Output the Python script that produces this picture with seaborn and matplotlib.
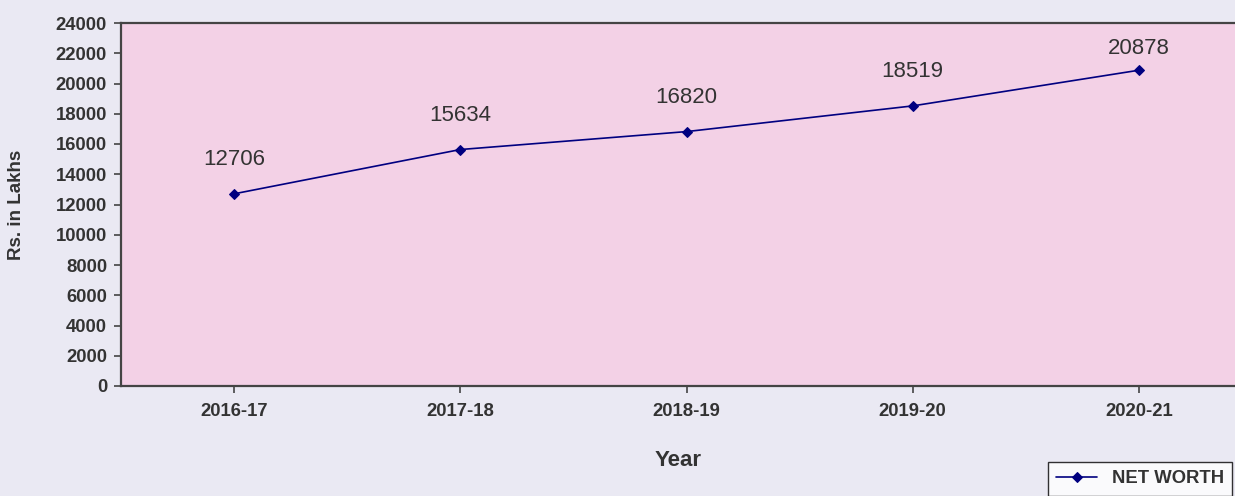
import matplotlib
matplotlib.use("Agg")
import matplotlib.pyplot as plt
import seaborn as sns
import pandas as pd

years = ["2016-17", "2017-18", "2018-19", "2019-20", "2020-21"]
net_worth = [12706, 15634, 16820, 18519, 20878]
series_name = "NET WORTH"
yticks = list(range(0, 24001, 2000))

df = pd.DataFrame({"Year": years, "Value": net_worth})
df["pos"] = range(len(years))

sns.set_theme(style="white")
plt.rcParams['font.family'] = ['Liberation Sans', 'DejaVu Sans']

W, H = 1235, 496
fig = plt.figure(figsize=(W / 100, H / 100), dpi=100, facecolor="#EAE9F3")
ax = fig.add_axes([121 / W, 1 - 386 / H, 1 - 121 / W, (386 - 23) / H])
ax.set_facecolor("#F3D1E6")

sns.lineplot(data=df, x="pos", y="Value", ax=ax, color="#000080", marker="D",
             markersize=5, markeredgecolor="#000080", linewidth=1.2,
             label=series_name)

ymax = 24000
for x, v in zip(df["pos"], df["Value"]):
    off = 17 if v < 0.85 * ymax else 8
    ax.annotate(str(v), (x, v), xytext=(0, off), textcoords="offset points",
                ha="center", va="bottom", fontsize=16, color="#333333")

ax.set_xlim(-0.5, (W - 235) / 226)
ax.set_ylim(0, ymax)
ax.set_xticks(df["pos"])
ax.set_xticklabels(years)
ax.set_yticks(yticks)
ax.tick_params(axis="both", which="both", direction="out", length=5, width=1.2,
               color="#444444", labelcolor="#333333", labelsize=13.3)
ax.tick_params(axis="x", pad=7)
ax.tick_params(axis="y", pad=5)
ax.tick_params(left=True, bottom=True)
for lab in ax.get_xticklabels() + ax.get_yticklabels():
    lab.set_fontweight("bold")

for s in ["left", "bottom", "top"]:
    ax.spines[s].set_color("#444444")
    ax.spines[s].set_linewidth(1.6)
    ax.spines[s].set_visible(True)
ax.spines["right"].set_visible(False)

ax.set_xlabel("Year", fontsize=16, fontweight="bold", color="#333333", labelpad=22)
ax.set_ylabel("Rs. in Lakhs", fontsize=13.5, fontweight="bold", color="#333333", labelpad=22)

leg = ax.legend(loc="upper left", bbox_to_anchor=(1048 / W, 1 - 462 / H),
                bbox_transform=fig.transFigure, frameon=True, fancybox=False,
                fontsize=13.3, borderpad=0.45, handlelength=2.2, borderaxespad=0)
leg.get_frame().set_edgecolor("#000000")
leg.get_frame().set_facecolor("white")
leg.get_frame().set_linewidth(1.0)
for t in leg.get_texts():
    t.set_fontweight("bold")
    t.set_color("#333333")

fig.savefig("out.png", dpi=100, facecolor=fig.get_facecolor())
